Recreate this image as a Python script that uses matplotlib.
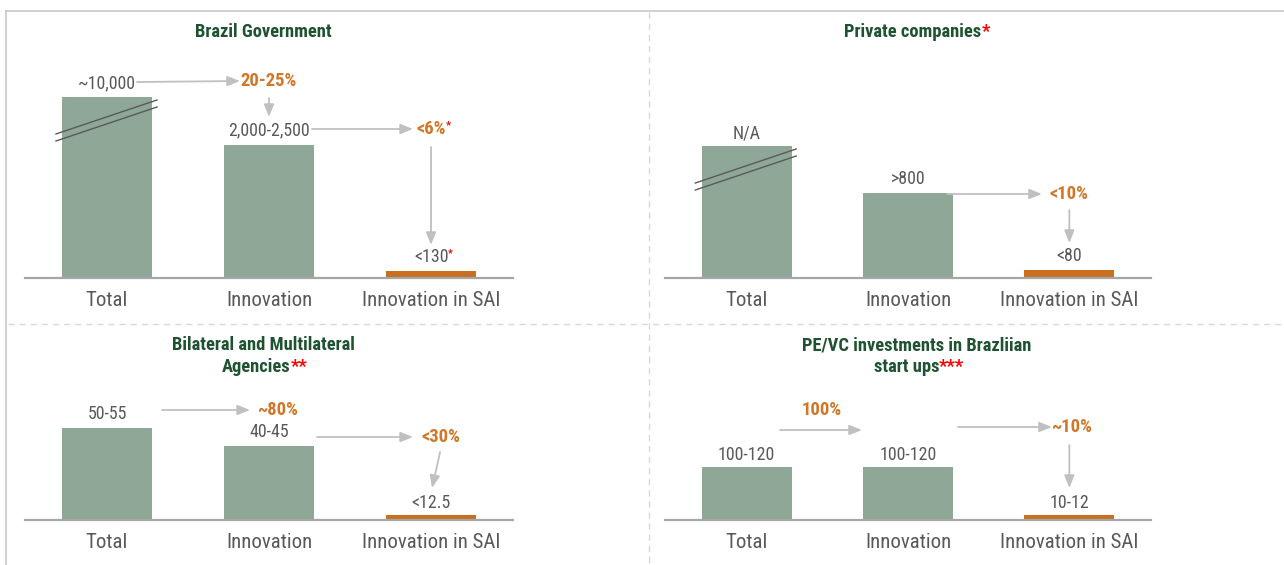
import matplotlib
matplotlib.use('Agg')
import matplotlib.pyplot as plt
from matplotlib import font_manager
from matplotlib.font_manager import FontProperties
from matplotlib.textpath import TextPath
from matplotlib.lines import Line2D

# ---------------- data ----------------
categories = ['Total', 'Innovation', 'Innovation in SAI']
panel_titles = [['Brazil Government'], ['Private companies'],
                ['Bilateral and Multilateral', 'Agencies'],
                ['PE/VC investments in Brazliian', 'start ups']]
title_marks = ['', '*', '**', '***']

# schematic bar heights (not to scale, as in the original)
gov_heights = [181, 133, 7]
private_heights = [132, 85, 8]
bilateral_heights = [92, 74, 5]
pevc_heights = [53, 53, 5]

gov_labels = ['~10,000', '2,000-2,500', '<130']
private_labels = ['N/A', '>800', '<80']
bilateral_labels = ['50-55', '40-45', '<12.5']
pevc_labels = ['100-120', '100-120', '10-12']

gov_shares = ['20-25%', '<6%']
private_shares = ['<10%']
bilateral_shares = ['~80%', '<30%']
pevc_shares = ['100%', '~10%']

# ---------------- fonts (prefer a condensed sans, as in the original) ----------------
W, H = 1284, 565


def _stretch(v):
    return v if isinstance(v, (int, float)) else font_manager.stretch_dict.get(v, 500)


def _weight(v):
    return v if isinstance(v, (int, float)) else font_manager.weight_dict.get(v, 400)


cond = {}
for f in font_manager.fontManager.ttflist:
    if f.style != 'normal':
        continue
    st = _stretch(f.stretch)
    if 250 <= st <= 400:
        cond.setdefault(f.name, []).append((_weight(f.weight), f.fname))

REG = BOLD = None
prefs = ['Open Sans', 'Open Sans Condensed', 'Noto Sans', 'Noto Sans Condensed',
         'Roboto Condensed', 'Roboto', 'Liberation Sans Narrow', 'DejaVu Sans',
         'DejaVu Sans Condensed'] + sorted(cond)
for name in prefs:
    lst = cond.get(name)
    if not lst:
        continue
    regs = [x for x in lst if 300 <= x[0] <= 450]
    bolds = [x for x in lst if 600 <= x[0] <= 800]
    if regs and bolds:
        REG = min(regs, key=lambda x: abs(x[0] - 400))[1]
        BOLD = min(bolds, key=lambda x: abs(x[0] - 700))[1]
        break
if REG is None:
    REG = font_manager.findfont(FontProperties(family='Liberation Sans'))
    BOLD = font_manager.findfont(FontProperties(family='Liberation Sans', weight='bold'))


def fit_size(text, fname, target_px):
    w = TextPath((0, 0), text, prop=FontProperties(fname=fname, size=10)).get_extents().width
    return 10 * target_px / (w * 100 / 72)


S_CAT = fit_size('Innovation in SAI', REG, 136)
S_TITLE = fit_size('Brazil Government', BOLD, 136)
S_VAL = fit_size('2,000-2,500', REG, 80)
S_SHARE = fit_size('20-25%', BOLD, 55)


def fp(bold, size):
    return FontProperties(fname=BOLD if bold else REG, size=size)


GREEN = '#8FA796'
ORANGE_BAR = '#C8701F'
ORANGE = '#D0772A'
TITLE = '#1E5230'
GRAY_TXT = '#595959'
ARROW = '#C0C0C0'
AXIS = '#A6A6A6'

fig = plt.figure(figsize=(W / 100, H / 100), dpi=100)
fig.patch.set_facecolor('white')


def fline(x0, y0, x1, y1, **kw):
    fig.add_artist(Line2D([x0 / W, x1 / W], [1 - y0 / H, 1 - y1 / H],
                          transform=fig.transFigure, **kw))


fline(6, 11, 1284, 11, color='#C8C8C8', lw=1.2)
fline(6, 11, 6, 565, color='#C8C8C8', lw=1.2)
fline(649, 12, 649, 565, color='#D9D9D9', lw=1, ls=(0, (4.5, 3.5)))
fline(8, 324, 1284, 324, color='#D9D9D9', lw=1, ls=(0, (4.5, 3.5)))


def make_ax(left_px, right_px, top_px, base_px):
    ax = fig.add_axes([left_px / W, 1 - base_px / H,
                       (right_px - left_px) / W, (base_px - top_px) / H])
    ax.set_xlim(-0.506, 2.506)
    ax.set_ylim(0, base_px - top_px)
    ax.patch.set_visible(False)
    for s in ['top', 'left', 'right']:
        ax.spines[s].set_visible(False)
    ax.spines['bottom'].set_color(AXIS)
    ax.spines['bottom'].set_linewidth(1.6)
    ax.spines['bottom'].set_zorder(5)
    ax.set_yticks([])
    ax.set_xticks([])
    return ax


def draw_bars(ax, heights):
    colors = [GREEN, GREEN, ORANGE_BAR]
    ax.bar(range(len(heights)), heights, width=0.556, color=colors, zorder=2)
    for i, c in enumerate(categories):
        ax.text(i, -22, c, ha='center', va='center', fontproperties=fp(False, S_CAT),
                color=GRAY_TXT, clip_on=False)


def add_star(t, size):
    t.axes.annotate('*', xy=(1, 1), xycoords=t, ha='left', va='top',
                    fontproperties=fp(True, size), color='red')


def val(ax, x, y, s, star=False):
    t = ax.text(x, y, s, ha='center', va='center', fontproperties=fp(False, S_VAL),
                color=GRAY_TXT, zorder=6)
    if star:
        add_star(t, S_VAL * 0.6)
    return t


def share(ax, x, y, s, star=False):
    t = ax.text(x, y, s, ha='center', va='center', fontproperties=fp(True, S_SHARE),
                color=ORANGE, zorder=6)
    if star:
        add_star(t, S_SHARE * 0.6)
    return t


def arrow(ax, x0, y0, x1, y1):
    ax.annotate('', xy=(x1, y1), xytext=(x0, y0),
                arrowprops=dict(arrowstyle='-|>,head_length=0.75,head_width=0.3',
                                color=ARROW, lw=1.3, shrinkA=0, shrinkB=0),
                annotation_clip=False, zorder=4)


def title(ax, lines, mark, x_line, x_last, y_first, dy=22):
    t = None
    for j, line in enumerate(lines):
        x = x_last if j == len(lines) - 1 else x_line
        t = ax.text(x, y_first - j * dy, line, ha='center', va='center',
                    fontproperties=fp(True, S_TITLE), color=TITLE)
    if mark:
        ax.annotate(mark, xy=(1, 1), xycoords=t, ha='left', va='top',
                    fontproperties=fp(True, S_TITLE), color='red')


def break_marks(ax, x0, x1, ya, yb, gap=7):
    for d in (0, -gap):
        ax.plot([x0, x1], [ya + d, yb + d], color='#5A5A5A', lw=1.0,
                zorder=3, clip_on=False)


# ---------- Panel 1: Brazil Government ----------
ax1 = make_ax(25, 513, 12, 278)
draw_bars(ax1, gov_heights)
title(ax1, panel_titles[0], title_marks[0], 0.963, 0.963, 246)
break_marks(ax1, -0.315, 0.309, 144, 178)
val(ax1, 0, 195, gov_labels[0])
arrow(ax1, 0.185, 196, 0.821, 197)
share(ax1, 1.0, 197, gov_shares[0])
arrow(ax1, 1.0, 180, 1.0, 161)
val(ax1, 1, 148, gov_labels[1])
arrow(ax1, 1.265, 149, 1.889, 149)
share(ax1, 2.0, 149, gov_shares[1], star=True)
arrow(ax1, 2.0, 131, 2.0, 33)
val(ax1, 2, 21, gov_labels[2], star=True)

# ---------- Panel 2: Private companies ----------
ax2 = make_ax(665, 1151, 12, 278)
draw_bars(ax2, private_heights)
title(ax2, panel_titles[1], title_marks[1], 1.03, 1.03, 246)
break_marks(ax2, -0.318, 0.307, 95, 129)
val(ax2, 0, 145, private_labels[0])
val(ax2, 1, 99, private_labels[1])
arrow(ax2, 1.242, 84, 1.83, 84)
share(ax2, 2.0, 84, private_shares[0])
arrow(ax2, 2.0, 68, 2.0, 35)
val(ax2, 2, 22, private_labels[2])

# ---------- Panel 3: Bilateral and Multilateral Agencies ----------
ax3 = make_ax(25, 513, 326, 520)
draw_bars(ax3, bilateral_heights)
title(ax3, panel_titles[2], title_marks[2], 0.963, 0.92, 175)
val(ax3, 0, 106, bilateral_labels[0])
arrow(ax3, 0.34, 110, 0.883, 110)
share(ax3, 1.056, 110, bilateral_shares[0])
val(ax3, 1, 88, bilateral_labels[1])
arrow(ax3, 1.296, 83, 1.889, 83)
share(ax3, 2.062, 83, bilateral_shares[1])
arrow(ax3, 2.056, 68, 2.006, 32)
val(ax3, 2, 17, bilateral_labels[2])

# ---------- Panel 4: PE/VC investments ----------
ax4 = make_ax(665, 1151, 326, 520)
draw_bars(ax4, pevc_heights)
title(ax4, panel_titles[3], title_marks[3], 1.056, 0.99, 175)
share(ax4, 0.467, 110, pevc_shares[0])
arrow(ax4, 0.207, 90, 0.715, 90)
val(ax4, 0, 65, pevc_labels[0])
val(ax4, 1, 65, pevc_labels[1])
arrow(ax4, 1.31, 93, 1.892, 93)
share(ax4, 2.016, 93, pevc_shares[1])
arrow(ax4, 2.0, 75, 2.0, 32)
val(ax4, 2, 17, pevc_labels[2])

fig.savefig('out.png', dpi=100, facecolor='white')
